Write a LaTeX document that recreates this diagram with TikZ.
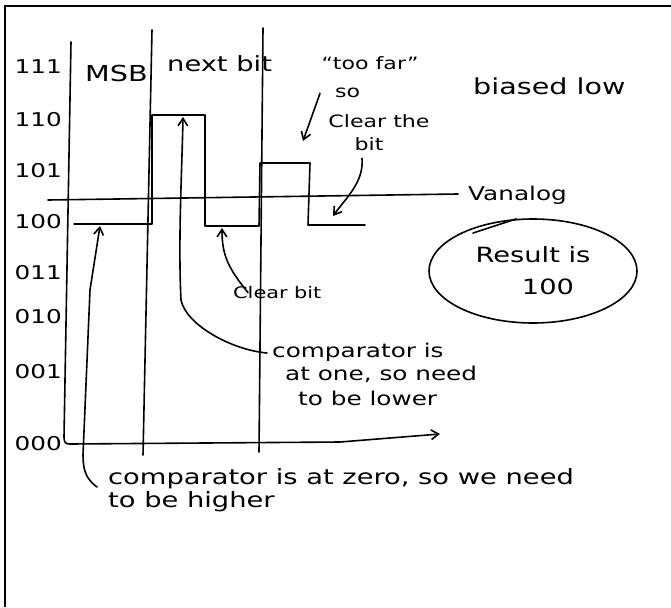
\documentclass[tikz,border=0pt]{standalone}
\usepackage{fontspec}
\newfontfamily\hand{DejaVu Sans}[FakeStretch=1.3]
\usepackage{tikz}
\usetikzlibrary{arrows.meta,positioning,shapes.geometric}
\tikzset{
  ink/.style={line width=1.6pt,draw=black,line cap=round,line join=round},
  arrow/.style={ink,-{Straight Barb[length=2.6mm,width=3.4mm]}},
  note/.style={font=\hand\fontsize{#1}{26}\selectfont,inner sep=0pt,anchor=base west},
  note/.default=20,
  level/.style={font=\hand\fontsize{19}{22}\selectfont,inner sep=0pt,anchor=base east},
  bubble/.style={ellipse,ink,minimum width=208pt,minimum height=104pt,inner sep=0pt,
    align=center,font=\hand\fontsize{21}{32}\selectfont}
}

\begin{document}
\begin{tikzpicture}[x=1pt,y=-1pt]
\useasboundingbox (0,0) rectangle (671,607);
\draw[line width=2.2pt] (5,607) -- (5,6) -- (671,6);

% code levels on the vertical axis
\foreach \code/\ypos in {111/74,110/126,101/177,100/228,011/279,010/323,001/378,000/450}
  \node[level] (lvl\code) at (62,\ypos) {\code};

% axes and bit columns
\draw[ink] (71,42) -- (64,437) .. controls (64,443) and (66,444) .. (70,444) -- (340,442);
\draw[arrow] (340,442) -- (440,434);
\draw[ink] (152,30) -- (143,455);
\draw[ink] (263,28) -- (259,452);
\node[note=22] (msb) at (85,82) {MSB};
\node[note=21] (nextbit) at (167,72) {next bit};

% Vanalog reference
\coordinate (vstart) at (48,200);
\coordinate (vend) at (458,194);
\draw[ink] (vstart) -- (vend);
\node[note=19] (vanalog) at (468,200) {Vanalog};
\draw[ink] (473,233) -- (516,219);

% DAC output steps
\coordinate (msbpt) at (100,226);
\coordinate (highpt) at (183,117);
\coordinate (clearpt) at (222,228);
\coordinate (farpt) at (303,141);
\coordinate (lastpt) at (333,216);
\draw[ink] (74,224) -- (152,224) -- (152,115) -- (205,115) -- (205,226) -- (259,226)
  -- (260,163) -- (310,163) -- (308,225) -- (365,225);

% notes
\node[note=17,anchor=base] (farq) at (370,70) {“too far”};
\node[note=17] (farso) at (335,98) {so};
\node[note=17,anchor=base] (farclear) at (379,127) {Clear the};
\node[note=17,anchor=base] (farbit) at (369,150) {bit};
\node[note=22] (biased) at (473,95) {biased low};
\node[bubble] (result) at (533,271) {Result is\\\hspace*{30pt}100};
\node[note=16] (clearbit) at (233,298) {Clear bit};
\node[note=19] (onea) at (272,357) {comparator is};
\node[note=19] (oneb) at (285,380) {at one, so need};
\node[note=19] (onec) at (298,405) {to be lower};
\node[note=21] (zeroa) at (108,484) {comparator is at zero, so we need};
\node[note=21] (zerob) at (108,507) {to be higher};

% arrows from the notes
\draw[arrow] ([xshift=-15pt]farso.west) -- (farpt);
\draw[arrow] ([xshift=-7pt,yshift=-8pt]farbit.south) .. controls (364,182) and (346,198) .. (lastpt);
\draw[arrow] ([xshift=15pt,yshift=-7pt]clearbit.north west) .. controls (228,268) and (222,255) .. (clearpt);
\draw[arrow] ([xshift=-5pt,yshift=4pt]onea.base west) .. controls (232,350) and (186,325)
  .. (181,300) .. controls (178,240) and (182,170) .. (highpt);
\draw[arrow] ([xshift=-11pt,yshift=-3pt]zeroa.base west) .. controls (86,479) and (83,470)
  .. (83,455) -- (90,290) -- (msbpt);
\end{tikzpicture}
\end{document}
